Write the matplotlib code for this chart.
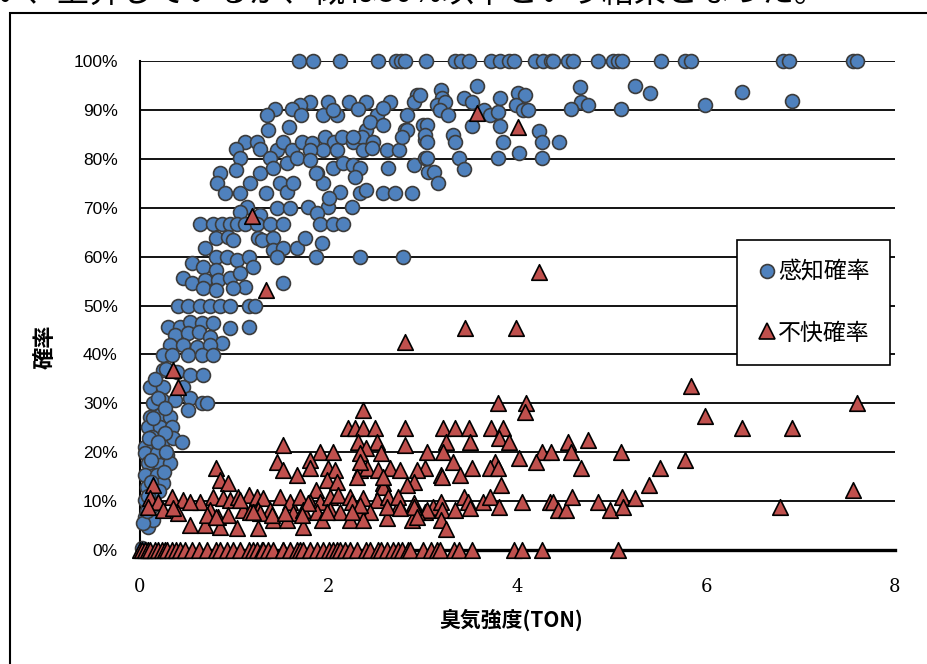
import matplotlib
matplotlib.use("Agg")
import matplotlib.pyplot as plt
from matplotlib.lines import Line2D
from matplotlib.patches import Rectangle
from matplotlib.ticker import FuncFormatter

plt.rcParams["font.family"] = ["Noto Sans CJK JP", "DejaVu Sans"]

# 感知確率 (detection probability), odour intensity in TON vs probability in %
detect_top_ton = [1.68, 1.83, 2.12, 2.52, 2.71, 2.77, 2.81, 3.03, 3.34, 3.40,
                  3.49, 3.72, 3.81, 3.91, 3.96, 4.19, 4.27, 4.35, 4.38, 4.54,
                  4.59, 4.85, 5.01, 5.07, 5.11, 5.52, 5.78, 5.84, 6.81, 6.88,
                  7.55, 7.60]
detect_top_pct = [100.0] * len(detect_top_ton)

detect_high_ton = [2.94, 2.90, 1.80, 1.99, 2.21, 2.39, 2.65, 1.70, 1.43, 1.35,
                   1.61, 1.71, 1.94, 2.09, 2.05, 2.31, 2.51, 2.57, 2.83, 1.36,
                   1.58, 2.39, 2.44, 2.58, 2.81, 3.00, 2.83, 3.57, 3.19, 2.97,
                   3.43, 3.52, 3.20, 3.15, 3.23, 3.18, 3.26, 3.64, 3.71, 3.79,
                   3.81, 4.00, 4.08, 3.98, 4.06, 4.11, 4.66, 4.67, 4.75, 4.57,
                   5.10, 5.24, 5.40, 5.99, 6.38, 6.91, 3.04, 3.52, 3.81, 4.23]
detect_high_pct = [93.0, 91.6, 91.6, 91.6, 91.6, 91.6, 91.6, 91.0, 90.2, 89.0,
                   90.2, 89.0, 89.0, 89.0, 90.0, 90.2, 89.0, 90.4, 89.0, 85.9,
                   86.5, 85.9, 87.5, 86.9, 85.9, 86.9, 85.9, 94.9, 94.1, 93.0,
                   92.4, 91.6, 92.4, 91.0, 91.6, 90.0, 89.0, 90.0, 89.0, 89.6,
                   92.4, 93.5, 93.0, 91.0, 90.0, 90.0, 94.7, 91.6, 91.0, 90.2,
                   90.2, 94.9, 93.5, 91.0, 93.6, 91.8, 86.9, 86.7, 86.7, 85.7]

detect_mid_ton = [1.11, 1.24, 1.02, 1.27, 1.45, 1.51, 1.61, 1.72, 1.82, 1.96,
                  2.06, 2.14, 2.26, 2.35, 2.47, 2.36, 2.46, 2.62, 2.74, 2.78,
                  3.02, 1.94, 2.09, 1.80, 2.26, 1.06, 1.02, 0.85, 1.27, 1.38,
                  1.41, 1.56, 1.66, 1.80, 1.88, 2.05, 2.15, 2.26, 2.33, 2.63,
                  2.90, 3.02, 3.05, 0.82, 0.90, 1.06, 1.17, 1.33, 1.48, 1.56,
                  1.62, 1.94, 2.12, 2.28, 2.33, 2.39, 2.58, 2.70, 2.88, 1.86,
                  1.13, 1.45, 1.59, 1.78, 1.99, 2.25, 2.00, 3.02, 3.04, 3.32,
                  3.34, 3.85, 4.26, 4.44, 4.02, 3.04, 3.38, 3.79, 4.26, 3.11,
                  3.43, 3.16, 1.06, 1.27, 1.88]
detect_mid_pct = [83.4, 83.4, 82.0, 82.0, 81.8, 83.4, 81.8, 83.4, 83.2, 84.5,
                  83.4, 84.5, 83.4, 84.5, 83.4, 81.8, 82.2, 81.8, 81.8, 84.5,
                  83.8, 81.8, 81.8, 81.8, 84.5, 80.2, 77.7, 77.1, 77.1, 80.2,
                  78.1, 79.1, 80.2, 79.8, 77.1, 78.1, 79.1, 78.7, 78.1, 78.1,
                  78.7, 80.2, 77.3, 75.1, 73.0, 73.0, 75.1, 73.0, 75.1, 73.2,
                  75.1, 75.1, 73.2, 76.3, 73.0, 73.6, 73.0, 73.0, 73.0, 77.1,
                  70.1, 69.9, 69.9, 70.1, 70.1, 70.1, 72.0, 84.9, 83.4, 84.9,
                  83.4, 83.4, 83.4, 83.4, 81.2, 80.2, 80.2, 80.2, 80.2, 77.3,
                  77.9, 75.1, 69.1, 68.5, 68.9]

detect_low_ton = [0.64, 0.77, 0.87, 0.95, 1.03, 1.11, 1.24, 1.38, 1.51, 1.91,
                  2.04, 2.15, 0.80, 0.93, 0.99, 1.25, 1.29, 1.41, 1.41, 1.52,
                  1.66, 1.75, 1.93, 0.69, 0.55, 0.67, 0.80, 0.92, 1.03, 1.15,
                  1.20, 1.45, 1.86, 2.33, 2.79, 0.46, 0.55, 0.69, 0.80, 0.83,
                  0.95, 1.06, 1.11, 0.67, 0.80, 0.99, 1.51, 0.40, 0.51, 0.64,
                  0.74, 0.85, 0.95, 1.15, 1.22]
detect_low_pct = [66.7, 66.7, 66.7, 66.7, 66.7, 66.7, 66.7, 66.7, 66.7, 66.7,
                  66.7, 66.7, 63.8, 64.0, 63.4, 63.8, 63.4, 63.8, 61.3, 61.8,
                  61.8, 63.8, 62.8, 61.8, 58.7, 57.9, 60.0, 60.0, 59.3, 60.0,
                  57.9, 60.0, 60.0, 60.0, 60.0, 55.6, 54.6, 55.2, 57.3, 55.2,
                  55.6, 56.6, 53.8, 53.6, 53.2, 53.6, 54.6, 50.0, 50.0, 50.0,
                  50.0, 50.0, 50.0, 50.0, 50.0]

detect_steep_ton = [0.30, 0.42, 0.53, 0.66, 0.77, 0.95, 1.15, 0.37, 0.51, 0.62,
                    0.74, 0.87, 0.32, 0.46, 0.60, 0.74, 0.24, 0.34, 0.51, 0.66,
                    0.77, 0.24, 0.39, 0.53, 0.67, 0.11, 0.24, 0.46, 0.23, 0.37,
                    0.53, 0.66, 0.71, 0.14, 0.51, 0.11, 0.21, 0.32, 0.08, 0.21,
                    0.34, 0.13, 0.23, 0.35, 0.45, 0.05, 0.05, 0.18, 0.29, 0.08,
                    0.21, 0.32, 0.05, 0.18, 0.24, 0.07, 0.16, 0.05, 0.11, 0.05,
                    0.08, 0.14, 0.03, 0.02, 0.16, 0.28, 0.19, 0.27, 0.14, 0.26,
                    0.10, 0.19, 0.28, 0.12, 0.25, 0.12, 0.20, 0.09, 0.13, 0.07]
detect_steep_pct = [45.6, 45.6, 46.6, 46.4, 46.4, 45.4, 45.6, 44.0, 44.4, 44.6,
                    43.6, 42.3, 41.9, 41.9, 41.5, 41.9, 39.9, 39.9, 39.9, 39.9,
                    39.9, 36.8, 36.4, 35.8, 35.8, 33.3, 33.3, 33.3, 30.7, 30.7,
                    31.1, 30.1, 30.1, 30.1, 28.6, 27.2, 27.6, 27.2, 25.2, 25.2,
                    25.2, 23.1, 21.9, 22.9, 22.1, 21.1, 19.8, 19.8, 19.4, 17.8,
                    17.4, 17.8, 15.3, 15.3, 13.7, 12.9, 12.3, 10.2, 8.8, 6.7,
                    4.7, 6.1, 5.5, 0.4, 35.0, 37.0, 31.0, 29.0, 27.0, 24.0,
                    23.0, 22.0, 20.0, 18.5, 16.0, 14.0, 12.0, 11.0, 9.0, 8.0]

# 不快確率 (discomfort probability)
unpleasant_high_ton = [1.19, 1.33, 2.81, 0.35, 0.40, 3.57, 4.00, 4.23, 3.44, 3.98,
                       5.84, 3.79, 4.09, 4.08, 5.99, 2.36, 7.60, 6.38, 6.91]
unpleasant_high_pct = [68.3, 53.2, 42.5, 36.8, 33.3, 89.4, 86.5, 56.9, 45.4, 45.4,
                       33.5, 30.1, 30.1, 28.2, 27.5, 28.6, 30.0, 25.0, 25.0]

unpleasant_mid_ton = [3.21, 3.34, 3.49, 3.72, 3.85, 2.20, 2.28, 2.36, 2.49, 2.81,
                      3.80, 3.91, 3.24, 3.50, 4.53, 4.75, 1.51, 2.31, 2.51, 2.81,
                      3.04, 3.21, 4.26, 4.35, 4.57, 5.10, 1.91, 2.05, 2.39, 2.33,
                      2.55, 3.32, 3.76, 4.02, 4.20, 4.67, 5.51, 5.77, 3.02, 3.19,
                      3.39, 3.52, 3.71, 3.79, 1.45, 1.80, 0.80, 1.52, 1.66, 1.80,
                      1.99, 2.07, 2.33, 2.41, 2.52, 2.65, 2.76, 2.94, 2.33, 0.85,
                      0.93, 1.98, 2.09, 2.30, 2.58, 2.90, 2.83, 0.14, 1.86, 2.58,
                      3.82, 5.39, 2.57, 3.20, 7.55]
unpleasant_mid_pct = [25.0, 25.0, 25.0, 25.0, 25.0, 25.0, 25.0, 25.0, 25.0, 25.0,
                      22.9, 22.1, 22.1, 22.1, 22.1, 22.5, 21.5, 22.1, 22.1, 21.5,
                      20.0, 20.0, 20.0, 20.0, 20.0, 20.0, 20.0, 20.0, 20.9, 19.8,
                      19.8, 18.0, 18.0, 18.8, 18.0, 16.8, 16.8, 18.5, 16.8, 15.3,
                      15.3, 16.8, 16.8, 16.8, 18.0, 18.4, 16.8, 16.4, 15.3, 16.8,
                      16.8, 16.4, 16.4, 16.8, 16.4, 16.8, 16.4, 16.4, 18.0, 14.3,
                      13.7, 14.3, 13.9, 14.9, 13.7, 13.9, 13.3, 13.3, 12.3, 12.9,
                      13.3, 13.3, 14.9, 14.9, 12.3]

unpleasant_low_ton = [3.02, 3.10, 3.19, 3.20, 3.34, 3.43, 3.48, 3.63, 3.71, 3.80,
                      4.05, 4.34, 4.38, 4.43, 4.51, 4.58, 4.85, 4.98, 5.11, 5.12,
                      5.24, 3.19, 3.24, 6.78, 0.11, 0.19, 0.34, 0.46, 0.64, 0.77,
                      0.88, 0.95, 1.04, 1.15, 1.24, 1.30, 1.48, 1.59, 1.70, 1.80,
                      1.91, 2.01, 2.10, 2.23, 2.36, 2.51, 2.63, 2.74, 2.90, 3.04,
                      0.08, 0.24, 0.40, 0.74, 0.83, 0.93, 1.09, 1.25, 1.38, 1.62,
                      1.73, 1.88, 2.01, 2.12, 2.33, 2.44, 2.94, 0.53, 0.69, 0.85,
                      1.03, 1.25, 1.41, 1.56, 1.73, 1.93, 2.23, 2.36, 2.62, 2.88,
                      1.78, 2.25, 2.33, 2.73, 2.90, 1.17, 1.27, 1.40, 1.54, 1.72,
                      1.98, 2.25, 2.62, 2.75, 3.50, 2.94, 0.53, 1.06, 0.35, 0.71,
                      0.80, 1.20]
unpleasant_low_pct = [7.8, 8.8, 9.8, 8.2, 8.2, 10.8, 9.8, 9.8, 10.8, 8.8,
                      9.8, 9.8, 9.8, 8.2, 8.2, 10.8, 9.8, 8.2, 10.8, 8.8,
                      10.6, 6.1, 4.3, 8.8, 10.6, 9.8, 10.8, 10.2, 9.8, 10.8,
                      10.6, 10.2, 10.8, 11.2, 10.8, 10.6, 10.8, 9.8, 10.8, 9.8,
                      9.8, 10.8, 11.2, 10.8, 10.6, 10.2, 10.8, 9.2, 9.6, 8.2,
                      8.8, 8.2, 7.6, 8.2, 6.7, 7.2, 8.2, 8.2, 8.2, 7.6,
                      8.2, 7.8, 8.2, 7.8, 7.8, 7.8, 7.8, 5.1, 5.1, 4.7,
                      4.5, 4.5, 6.1, 6.1, 4.7, 6.1, 6.1, 6.1, 6.5, 6.1,
                      9.6, 9.8, 9.2, 10.8, 8.8, 7.8, 7.6, 7.2, 7.6, 7.2,
                      7.8, 7.8, 8.8, 8.6, 8.6, 6.7, 9.8, 10.2, 8.6, 7.2,
                      6.7, 7.8]

unpleasant_zero_ton = [0.00, 0.02, 0.05, 0.08, 0.11, 0.16, 0.19, 0.23, 0.26, 0.29,
                       0.34, 0.38, 0.42, 0.48, 0.55, 0.62, 0.71, 0.80, 0.85, 0.92,
                       0.99, 1.06, 1.15, 1.20, 1.24, 1.29, 1.30, 1.36, 1.41, 1.51,
                       1.52, 1.59, 1.66, 1.70, 1.73, 1.80, 1.88, 1.94, 2.00, 2.05,
                       2.09, 2.12, 2.17, 2.23, 2.30, 2.39, 2.44, 2.52, 2.55, 2.62,
                       2.68, 2.73, 2.78, 2.84, 2.86, 3.00, 3.08, 3.15, 3.18, 3.33,
                       3.38, 3.52, 3.96, 4.05, 4.26, 5.06]
unpleasant_zero_pct = [0.0] * len(unpleasant_zero_ton)

Y_TICKS = [0, 10, 20, 30, 40, 50, 60, 70, 80, 90, 100]
X_TICKS = [0, 2, 4, 6, 8]

BLUE = "#4F81BD"
RED = "#C0504D"

detect_x = detect_top_ton + detect_high_ton + detect_mid_ton + detect_low_ton + detect_steep_ton
detect_y = detect_top_pct + detect_high_pct + detect_mid_pct + detect_low_pct + detect_steep_pct
unpleasant_x = unpleasant_high_ton + unpleasant_mid_ton + unpleasant_low_ton + unpleasant_zero_ton
unpleasant_y = unpleasant_high_pct + unpleasant_mid_pct + unpleasant_low_pct + unpleasant_zero_pct

fig = plt.figure(figsize=(9.27, 6.64), dpi=100)
ax = fig.add_axes([140 / 927, 1 - 550 / 664, 755 / 927, 489 / 664])

ax.scatter(detect_x, detect_y, s=100, color=BLUE, edgecolors="#3c3c3c",
           linewidths=1.2, zorder=3, clip_on=False)
ax.scatter(unpleasant_x, unpleasant_y, s=125, marker="^", color=RED,
           edgecolors="black", linewidths=1.2, zorder=4, clip_on=False)

ax.set_xlim(0, 8)
ax.set_ylim(0, 100)
ax.set_xticks(X_TICKS)
ax.set_yticks(Y_TICKS)
ax.yaxis.set_major_formatter(FuncFormatter(lambda v, _p: f"{v:.0f}%"))
ax.grid(axis="y", color="black", linewidth=1.3)
ax.set_axisbelow(True)
ax.tick_params(axis="both", length=0)
ax.tick_params(axis="y", pad=16)
ax.tick_params(axis="x", pad=20)
for lbl in ax.get_yticklabels():
    lbl.set_fontfamily("Liberation Sans")
    lbl.set_fontsize(12.5)
for lbl in ax.get_xticklabels():
    lbl.set_fontfamily("DejaVu Serif")
    lbl.set_fontsize(13)

ax.spines["top"].set_visible(False)
ax.spines["right"].set_visible(False)
ax.spines["left"].set_linewidth(1.5)
ax.spines["bottom"].set_linewidth(2.4)

fig.text(45 / 927, 1 - 347 / 664, "確率", rotation=90, fontsize=16,
         fontweight="bold", ha="center", va="center")
fig.text(511 / 927, 1 - 620 / 664, "臭気強度(TON)", fontsize=15,
         fontweight="bold", ha="center", va="center")

handles = [
    Line2D([], [], ls="none", marker="o", ms=10, mfc=BLUE, mec="#3c3c3c", mew=1.2),
    Line2D([], [], ls="none", marker="^", ms=11, mfc=RED, mec="black", mew=1.2),
]
leg = fig.legend(handles, ["感知確率", "不快確率"], loc="upper left",
                 bbox_to_anchor=(737 / 927, 1 - 240 / 664),
                 bbox_transform=fig.transFigure, borderaxespad=0,
                 frameon=True, fancybox=False, edgecolor="black", framealpha=1,
                 prop={"size": 16.5}, borderpad=0.9, handlelength=0.8,
                 handletextpad=0.1, labelspacing=1.65)
leg.get_frame().set_linewidth(1.2)

# outer chart border, running off the right and bottom of the crop
fig.add_artist(Rectangle((10 / 927, -0.2), 1.2, 1.2 - 13 / 664, fill=False,
                         edgecolor="black", linewidth=1.5,
                         transform=fig.transFigure, clip_on=False))
# last line of the surrounding paragraph, cut off at the top
fig.text(-6 / 927, 1 - 9 / 664, "い、上昇しているが、概ね80%以下という結果となった。",
         fontsize=23, va="bottom", ha="left")

fig.savefig("out.png", dpi=100)
